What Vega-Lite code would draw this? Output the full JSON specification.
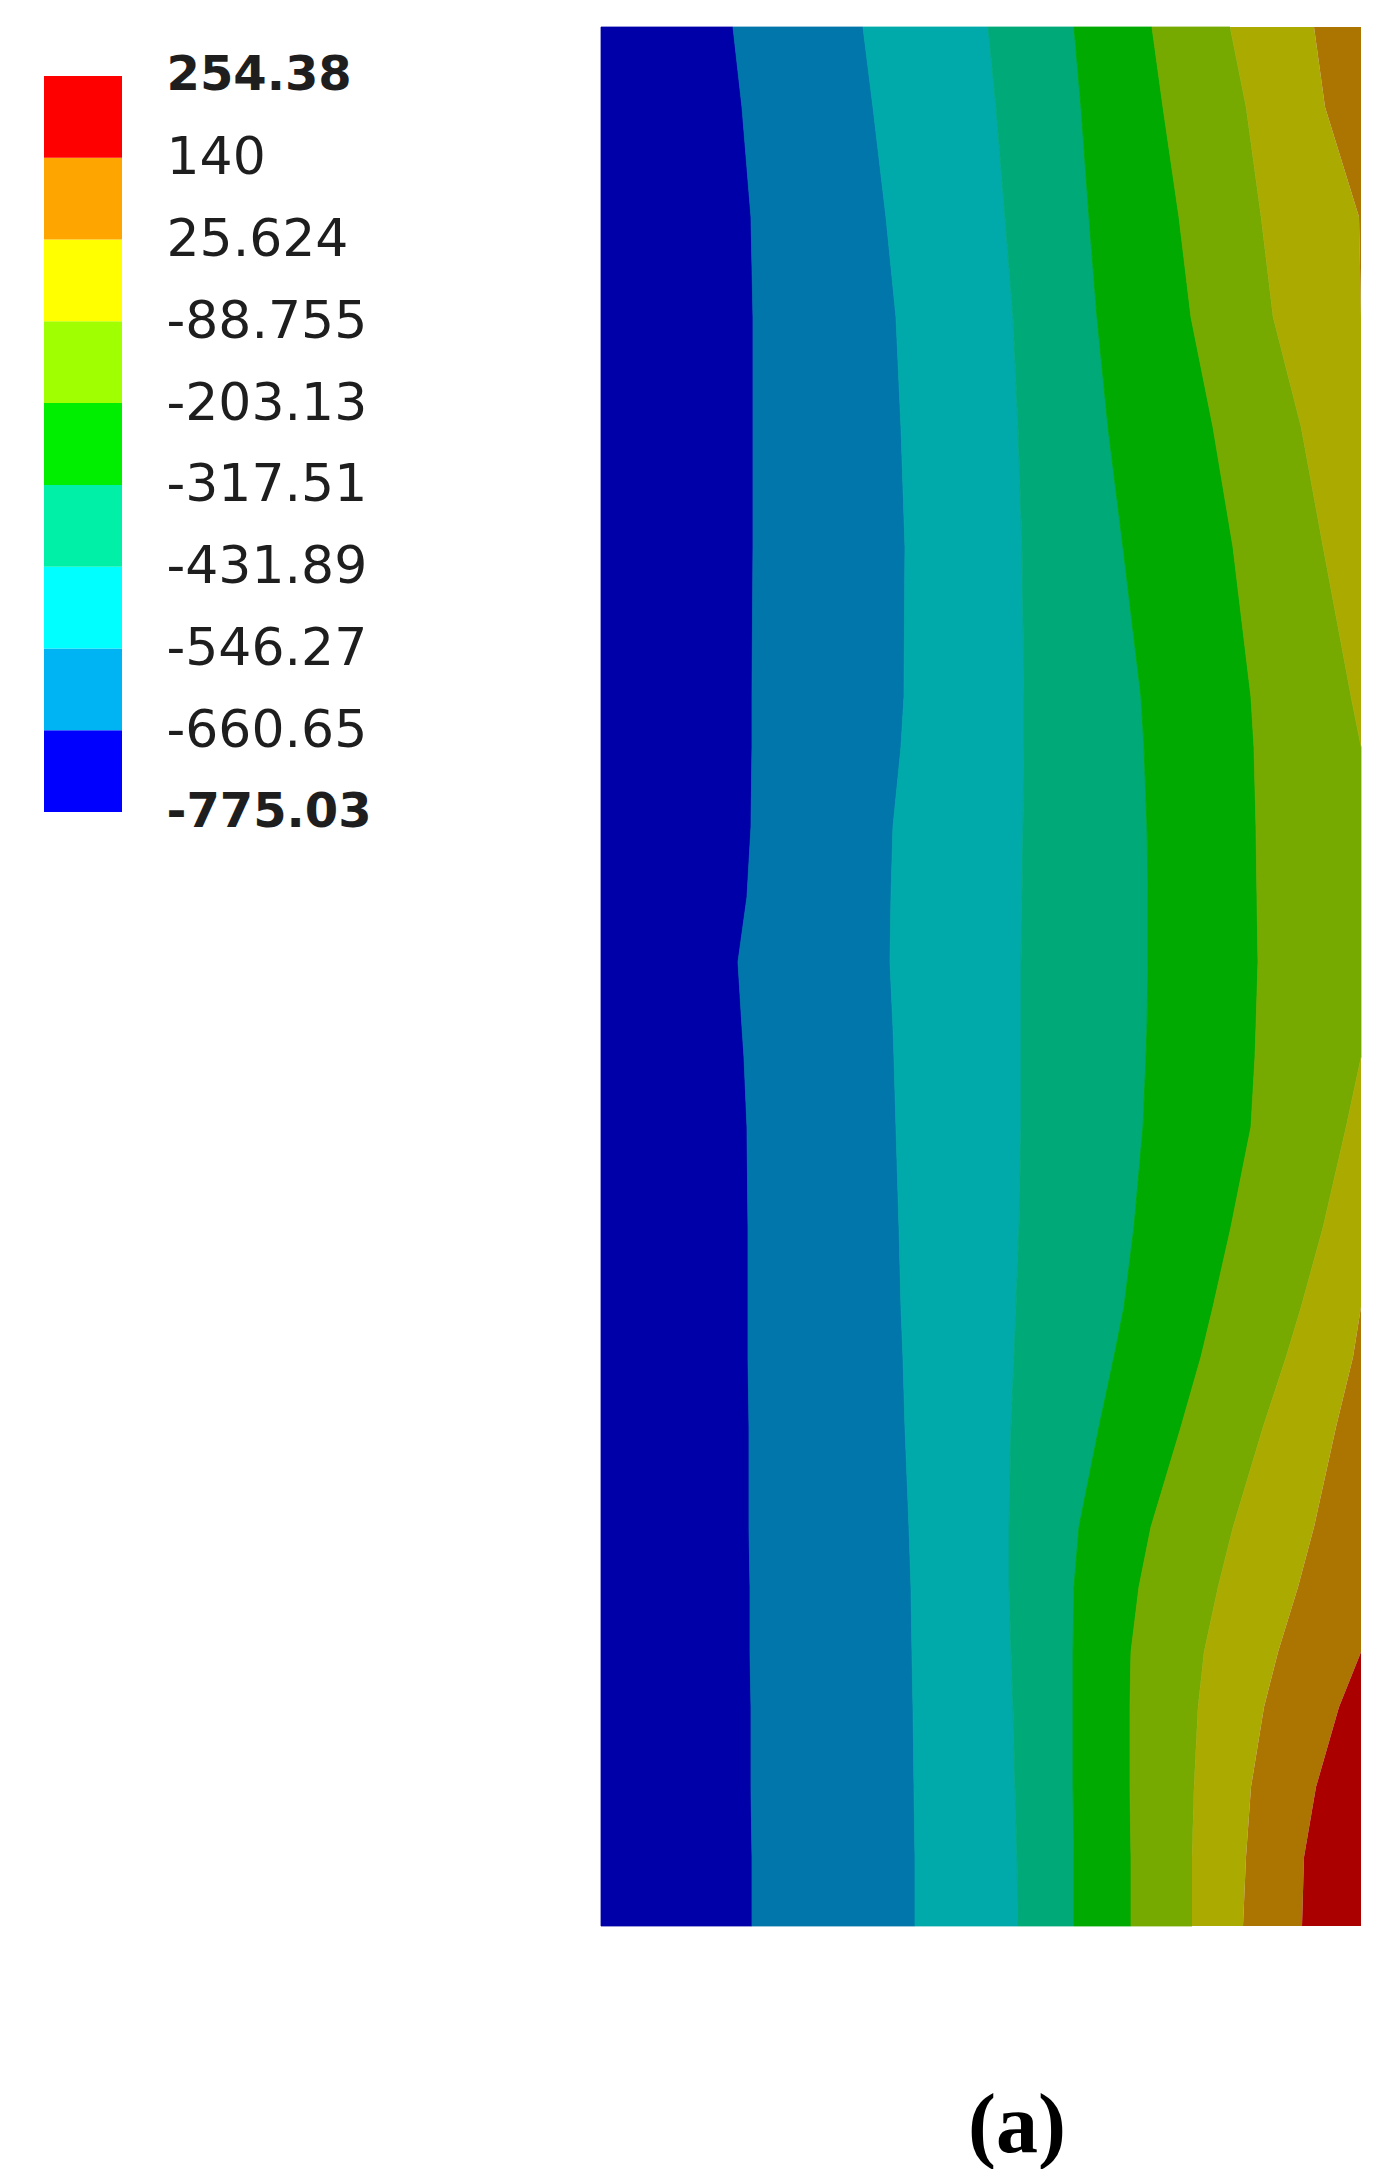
{
  "$schema": "https://vega.github.io/schema/vega-lite/v6.json",
  "background": "white",
  "padding": {"left": 44, "top": 25, "right": 0, "bottom": 0},
  "config": {"view": {"stroke": null}},
  "bounds": "flush",
  "spacing": 479,
  "resolve": {"scale": {"color": "independent", "x": "independent", "y": "independent"}},
  "datasets": {
    "legendBands": [
      {"lo": -775.03, "hi": -660.65, "k": "b0"},
      {"lo": -660.65, "hi": -546.27, "k": "b1"},
      {"lo": -546.27, "hi": -431.89, "k": "b2"},
      {"lo": -431.89, "hi": -317.51, "k": "b3"},
      {"lo": -317.51, "hi": -203.13, "k": "b4"},
      {"lo": -203.13, "hi": -88.755, "k": "b5"},
      {"lo": -88.755, "hi": 25.624, "k": "b6"},
      {"lo": 25.624, "hi": 140, "k": "b7"},
      {"lo": 140, "hi": 254.38, "k": "b8"}
    ],
    "contours": [
      {"y": 0, "b0": 0, "b1": 132, "b2": 262, "b3": 387, "b4": 473, "b5": 551, "b6": 629, "b7": 713, "b8": 760, "b9": 760},
      {"y": 80, "b0": 0, "b1": 141, "b2": 272, "b3": 395, "b4": 480, "b5": 562, "b6": 645, "b7": 724, "b8": 760, "b9": 760},
      {"y": 190, "b0": 0, "b1": 150, "b2": 285, "b3": 404, "b4": 488, "b5": 578, "b6": 660, "b7": 758, "b8": 760, "b9": 760},
      {"y": 290, "b0": 0, "b1": 152, "b2": 295, "b3": 412, "b4": 496, "b5": 590, "b6": 672, "b7": 760, "b8": 760, "b9": 760},
      {"y": 400, "b0": 0, "b1": 152, "b2": 300, "b3": 417, "b4": 507, "b5": 612, "b6": 700, "b7": 760, "b8": 760, "b9": 760},
      {"y": 520, "b0": 0, "b1": 152, "b2": 304, "b3": 421, "b4": 522, "b5": 632, "b6": 722, "b7": 760, "b8": 760, "b9": 760},
      {"y": 670, "b0": 0, "b1": 151, "b2": 303, "b3": 423, "b4": 540, "b5": 650, "b6": 750, "b7": 760, "b8": 760, "b9": 760},
      {"y": 720, "b0": 0, "b1": 151, "b2": 300, "b3": 423, "b4": 543, "b5": 653, "b6": 760, "b7": 760, "b8": 760, "b9": 760},
      {"y": 800, "b0": 0, "b1": 150, "b2": 292, "b3": 422, "b4": 546, "b5": 655, "b6": 760, "b7": 760, "b8": 760, "b9": 760},
      {"y": 870, "b0": 0, "b1": 146, "b2": 290, "b3": 421, "b4": 547, "b5": 656, "b6": 760, "b7": 760, "b8": 760, "b9": 760},
      {"y": 935, "b0": 0, "b1": 137, "b2": 289, "b3": 420, "b4": 547, "b5": 657, "b6": 760, "b7": 760, "b8": 760, "b9": 760},
      {"y": 1000, "b0": 0, "b1": 141, "b2": 292, "b3": 420, "b4": 546, "b5": 655, "b6": 760, "b7": 760, "b8": 760, "b9": 760},
      {"y": 1030, "b0": 0, "b1": 143, "b2": 293, "b3": 420, "b4": 545, "b5": 654, "b6": 760, "b7": 760, "b8": 760, "b9": 760},
      {"y": 1100, "b0": 0, "b1": 146, "b2": 295, "b3": 420, "b4": 542, "b5": 650, "b6": 745, "b7": 760, "b8": 760, "b9": 760},
      {"y": 1200, "b0": 0, "b1": 147, "b2": 298, "b3": 418, "b4": 533, "b5": 630, "b6": 722, "b7": 760, "b8": 760, "b9": 760},
      {"y": 1280, "b0": 0, "b1": 147, "b2": 300, "b3": 415, "b4": 523, "b5": 612, "b6": 700, "b7": 760, "b8": 760, "b9": 760},
      {"y": 1330, "b0": 0, "b1": 147, "b2": 302, "b3": 413, "b4": 513, "b5": 600, "b6": 685, "b7": 752, "b8": 760, "b9": 760},
      {"y": 1400, "b0": 0, "b1": 148, "b2": 304, "b3": 410, "b4": 498, "b5": 580, "b6": 662, "b7": 735, "b8": 760, "b9": 760},
      {"y": 1500, "b0": 0, "b1": 148, "b2": 308, "b3": 408, "b4": 478, "b5": 550, "b6": 632, "b7": 713, "b8": 760, "b9": 760},
      {"y": 1560, "b0": 0, "b1": 149, "b2": 310, "b3": 408, "b4": 473, "b5": 538, "b6": 617, "b7": 697, "b8": 760, "b9": 760},
      {"y": 1625, "b0": 0, "b1": 149, "b2": 311, "b3": 410, "b4": 472, "b5": 530, "b6": 603, "b7": 677, "b8": 760, "b9": 760},
      {"y": 1680, "b0": 0, "b1": 150, "b2": 312, "b3": 412, "b4": 472, "b5": 529, "b6": 597, "b7": 663, "b8": 738, "b9": 760},
      {"y": 1760, "b0": 0, "b1": 150, "b2": 313, "b3": 414, "b4": 472, "b5": 529, "b6": 593, "b7": 650, "b8": 715, "b9": 760},
      {"y": 1830, "b0": 0, "b1": 151, "b2": 314, "b3": 416, "b4": 473, "b5": 530, "b6": 591, "b7": 645, "b8": 703, "b9": 760},
      {"y": 1899, "b0": 0, "b1": 151, "b2": 314, "b3": 417, "b4": 473, "b5": 530, "b6": 591, "b7": 642, "b8": 701, "b9": 760}
    ]
  },
  "hconcat": [
    {
      "width": 78,
      "height": 785,
      "data": {"name": "legendBands"},
      "mark": {"type": "rect"},
      "encoding": {
        "y": {
          "field": "lo",
          "type": "quantitative",
          "scale": {"domain": [-775.03, 322.91], "nice": false, "zero": false},
          "axis": {
            "orient": "right",
            "values": [254.38, 140, 25.624, -88.755, -203.13, -317.51, -431.89, -546.27, -660.65, -775.03],
            "labelExpr": "'' + datum.value",
            "domain": false,
            "ticks": false,
            "grid": false,
            "title": null,
            "labelPadding": 44,
            "labelLimit": 0,
            "labelFont": "DejaVu Sans",
            "labelFontSize": {"condition": {"test": "datum.value == 254.38 || datum.value == -775.03", "value": 48}, "value": 52},
            "labelColor": "#1e1e1e",
            "labelFontWeight": {"condition": {"test": "datum.value == 254.38 || datum.value == -775.03", "value": "bold"}, "value": "normal"},
            "labelOverlap": false,
            "labelFlush": false,
            "labelBound": false
          }
        },
        "y2": {"field": "hi"},
        "color": {
          "field": "k",
          "type": "nominal",
          "scale": {
            "domain": ["b0", "b1", "b2", "b3", "b4", "b5", "b6", "b7", "b8"],
            "range": ["#0000FF", "#00B4F4", "#00FFFF", "#00F0A8", "#00EE00", "#A0FF00", "#FFFF00", "#FFA500", "#FF0000"]
          },
          "legend": null
        }
      }
    },
    {
      "width": 760,
      "height": 1899,
      "title": {
        "text": "(a)",
        "orient": "bottom",
        "anchor": "middle",
        "font": "Liberation Serif",
        "fontSize": 84,
        "fontWeight": "bold",
        "color": "#000000",
        "baseline": "alphabetic",
        "offset": 224,
        "dx": 36
      },
      "data": {"name": "contours"},
      "transform": [
        {"fold": ["b0", "b1", "b2", "b3", "b4", "b5", "b6", "b7", "b8", "b9"], "as": ["band", "x"]},
        {"window": [{"op": "lead", "field": "x", "as": "xn"}], "groupby": ["y"], "sort": [{"field": "band", "order": "ascending"}]},
        {"filter": {"field": "xn", "valid": true}}
      ],
      "mark": {"type": "area", "orient": "horizontal", "interpolate": "linear", "strokeWidth": 0.8},
      "encoding": {
        "y": {"field": "y", "type": "quantitative", "scale": {"domain": [0, 1899], "reverse": true, "nice": false, "zero": false}, "axis": null},
        "x": {"field": "x", "type": "quantitative", "scale": {"domain": [0, 760], "nice": false, "zero": false}, "axis": null, "stack": null},
        "x2": {"field": "xn"},
        "color": {
          "field": "band",
          "type": "nominal",
          "scale": {
            "domain": ["b0", "b1", "b2", "b3", "b4", "b5", "b6", "b7", "b8"],
            "range": ["#0000A8", "#0076AA", "#00AAAA", "#00AA78", "#00AA00", "#76AA00", "#AAAA00", "#AC7400", "#AA0000"]
          },
          "legend": null
        },
        "stroke": {
          "field": "band",
          "type": "nominal",
          "scale": {
            "domain": ["b0", "b1", "b2", "b3", "b4", "b5", "b6", "b7", "b8"],
            "range": ["#0000A8", "#0076AA", "#00AAAA", "#00AA78", "#00AA00", "#76AA00", "transparent", "transparent", "transparent"]
          },
          "legend": null
        }
      }
    }
  ]
}
